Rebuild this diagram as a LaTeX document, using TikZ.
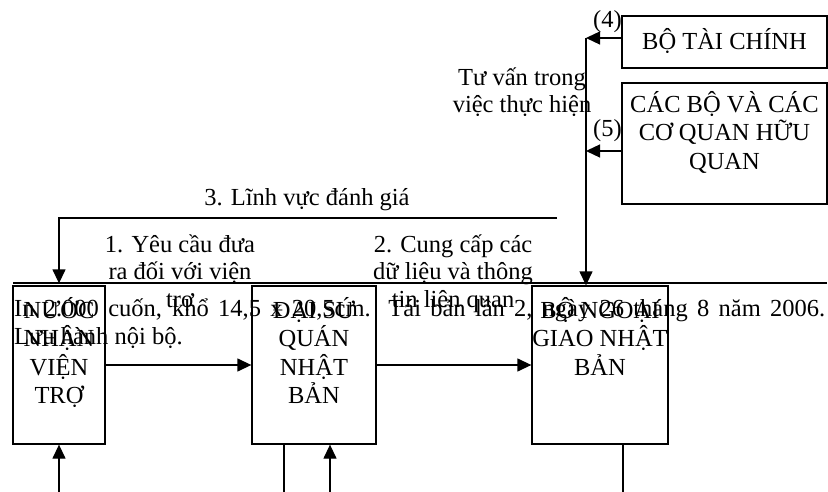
\documentclass[tikz,border=0pt]{standalone}
\usepackage{fontspec}
\setmainfont{Liberation Serif}
\usetikzlibrary{arrows.meta,positioning}

\begin{document}
\begin{tikzpicture}[
  x=1pt, y=-1pt,
  font=\fontsize{24.5pt}{27.5pt}\selectfont,
  box/.style={draw, line width=1.3pt, rectangle, inner sep=0pt},
  boxtext/.style={align=center, inner sep=0pt,
    font=\fontsize{24.5pt}{28.5pt}\selectfont},
  lbl/.style={align=center, inner sep=0pt, anchor=base},
  arr/.style={-{Triangle[length=14pt,width=13pt]}, line width=1.3pt},
  link/.style={line width=1.3pt}
]
\useasboundingbox (0,0) rectangle (828,492);

\draw[line width=1.8pt] (13,283) -- (827,283);

\node[box, minimum width=92pt, minimum height=158pt] (nuoc) at (59,365) {};
\node[box, minimum width=124pt, minimum height=158pt] (daisu) at (314,365) {};
\node[box, minimum width=136pt, minimum height=158pt] (bng) at (600,365) {};
\node[box, minimum width=205pt, minimum height=52pt] (btc) at (724.5,42) {};
\node[box, minimum width=205pt, minimum height=121pt] (cacbo) at (724.5,143.5) {};

\node[boxtext, below=118.5pt of nuoc.north, anchor=base] (nuoc-t) {NƯỚC\\NHẬN\\VIỆN\\TRỢ};
\node[boxtext, below=118.5pt of daisu.north, anchor=base] (daisu-t) {ĐẠI SỨ\\QUÁN\\NHẬT\\BẢN};
\node[boxtext, below=90pt of bng.north, anchor=base] (bng-t) {BỘ NGOẠI\\GIAO NHẬT\\BẢN};
\node[boxtext, below=34pt of btc.north, anchor=base] (btc-t) {BỘ TÀI CHÍNH};
\node[boxtext, below=87pt of cacbo.north, anchor=base] (cacbo-t) {CÁC BỘ VÀ CÁC\\CƠ QUAN HỮU\\QUAN};

\node[lbl] (l3) at (307,206) {3. Lĩnh vực đánh giá};
\node[lbl] (l1) at (180,307) {1. Yêu cầu đưa\\ra đối với viện\\trợ};
\node[lbl] (l2) at (453,307) {2. Cung cấp các\\dữ liệu và thông\\tin liên quan};
\node[lbl] (ltv) at (522,113) {Tư vấn trong\\việc thực hiện};
\node[lbl, anchor=base east] (l4) at (622,28) {(4)};
\node[lbl, anchor=base east] (l5) at (622,137) {(5)};

\node[inner sep=0pt, anchor=base west, align=left] (inan) at (14,344)
  {\makebox[811pt][s]{In 2.000 cuốn, khổ 14,5 x 20,5cm. Tái bản lần 2, ngày 26 tháng 8 năm 2006.}\\Lưu hành nội bộ.};

\coordinate (c3) at (557,218);
\coordinate (top) at (586,38);
\coordinate (c5) at (586,151);
\coordinate (b1) at (59,492);
\coordinate (b2a) at (284,492);
\coordinate (b2b) at (330,492);
\coordinate (b3) at (623,492);

\draw[arr] (nuoc) -- (daisu);
\draw[arr] (daisu) -- (bng);
\draw[arr, shorten >=2pt] (c3) -| (nuoc.north);
\draw[arr] (top) -- (top |- bng.north);
\draw[arr] (btc.west |- top) -- (top);
\draw[arr] (cacbo.west |- c5) -- (c5);
\draw[arr] (b1) -- (nuoc.south);
\draw[link] (daisu.south -| b2a) -- (b2a);
\draw[arr] (b2b) -- (b2b |- daisu.south);
\draw[link] (bng.south -| b3) -- (b3);
\end{tikzpicture}
\end{document}
